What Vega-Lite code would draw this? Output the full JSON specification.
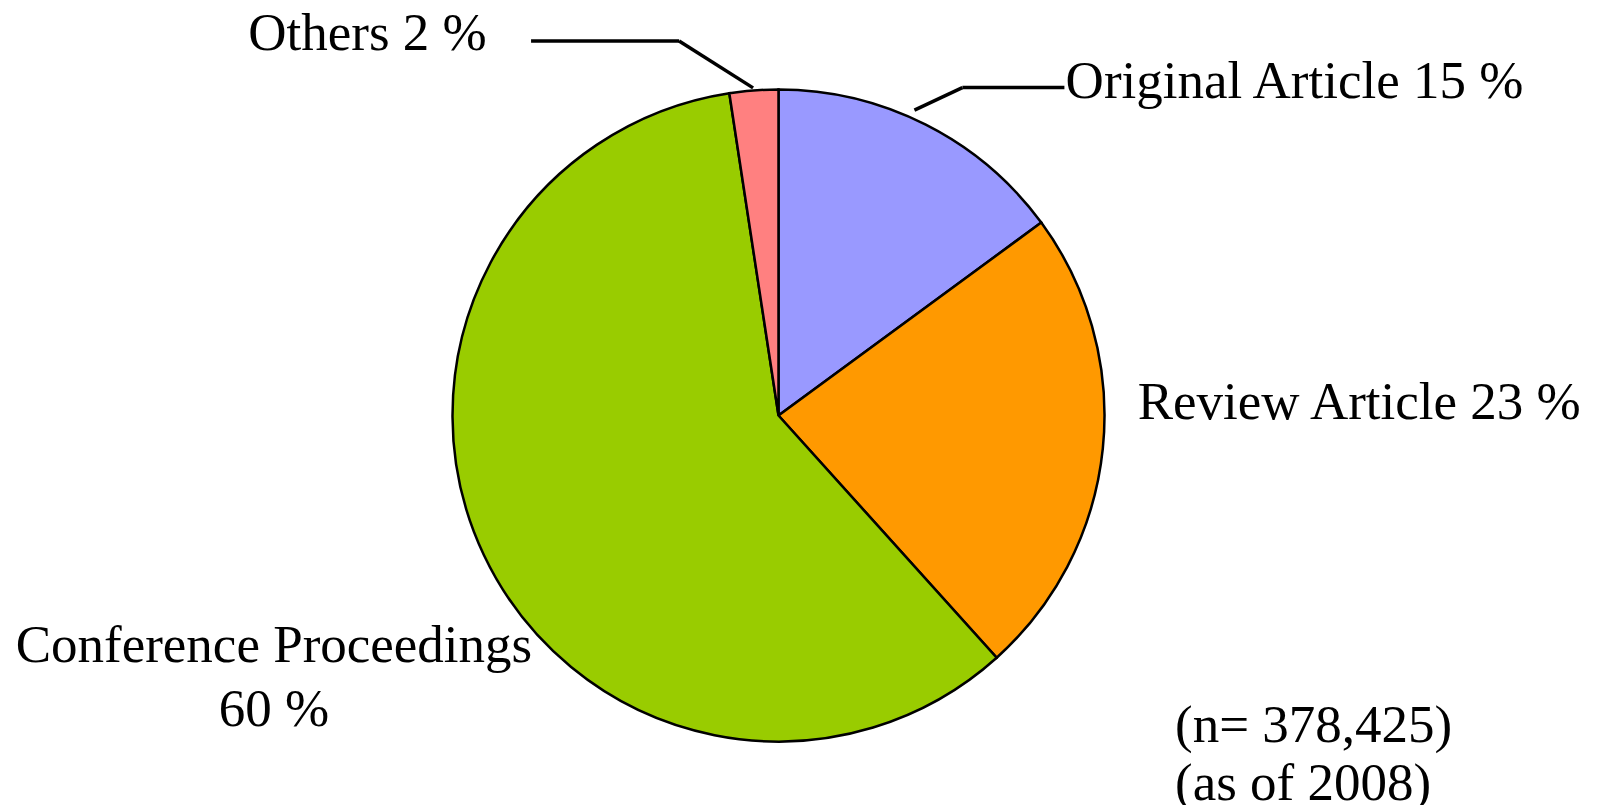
{
  "$schema": "https://vega.github.io/schema/vega-lite/v6.json",
  "autosize": {"type": "none"},
  "width": 1557,
  "height": 779,
  "padding": {"left": 0, "top": 26, "right": 40, "bottom": 0},
  "background": "white",
  "config": {
    "view": {"stroke": null},
    "text": {"font": "Liberation Serif", "fontSize": 53, "color": "black"}
  },
  "title": {
    "text": ["(n= 378,425)", "(as of 2008)"],
    "orient": "bottom",
    "anchor": "end",
    "frame": "group",
    "align": "left",
    "baseline": "alphabetic",
    "dx": -382,
    "dy": -63,
    "offset": 0,
    "font": "Liberation Serif",
    "fontSize": 53,
    "fontWeight": "normal",
    "color": "black",
    "lineHeight": 58
  },
  "data": {
    "values": [
      {"idx": 1, "type": "Original Article", "share": 14.92, "label": "Original Article 15 %"},
      {"idx": 2, "type": "Review Article", "share": 23.41, "label": "Review Article 23 %"},
      {"idx": 3, "type": "Conference Proceedings", "share": 59.26, "label": "Conference Proceedings\n60 %"},
      {"idx": 4, "type": "Others", "share": 2.41, "label": "Others 2 %"}
    ]
  },
  "layer": [
    {
      "mark": {"type": "arc", "outerRadius": 326, "stroke": "black", "strokeWidth": 2.5},
      "encoding": {
        "theta": {"field": "share", "type": "quantitative", "stack": true},
        "order": {"field": "idx", "type": "quantitative"},
        "color": {
          "field": "type",
          "type": "nominal",
          "scale": {
            "domain": ["Original Article", "Review Article", "Conference Proceedings", "Others"],
            "range": ["#9999FF", "#FF9900", "#99CC00", "#FF8080"]
          },
          "legend": null
        }
      }
    },
    {
      "mark": {"type": "text", "radius": 350, "align": "left", "baseline": "alphabetic", "dx": 129, "dy": -5},
      "encoding": {
        "theta": {"field": "share", "type": "quantitative", "stack": true},
        "order": {"field": "idx", "type": "quantitative"},
        "detail": {"field": "type", "type": "nominal"},
        "text": {"condition": {"test": "datum.type === 'Original Article'", "field": "label", "type": "nominal"}, "value": ""}
      }
    },
    {
      "mark": {"type": "text", "radius": 350, "align": "left", "baseline": "alphabetic", "dx": 11, "dy": -32},
      "encoding": {
        "theta": {"field": "share", "type": "quantitative", "stack": true},
        "order": {"field": "idx", "type": "quantitative"},
        "detail": {"field": "type", "type": "nominal"},
        "text": {"condition": {"test": "datum.type === 'Review Article'", "field": "label", "type": "nominal"}, "value": ""}
      }
    },
    {
      "mark": {"type": "text", "radius": 420, "align": "center", "baseline": "alphabetic", "dx": -125, "dy": 67, "lineBreak": "\n", "lineHeight": 64},
      "encoding": {
        "theta": {"field": "share", "type": "quantitative", "stack": true},
        "order": {"field": "idx", "type": "quantitative"},
        "detail": {"field": "type", "type": "nominal"},
        "text": {"condition": {"test": "datum.type === 'Conference Proceedings'", "field": "label", "type": "nominal"}, "value": ""}
      }
    },
    {
      "mark": {"type": "text", "radius": 380, "align": "right", "baseline": "alphabetic", "dx": -263, "dy": 13},
      "encoding": {
        "theta": {"field": "share", "type": "quantitative", "stack": true},
        "order": {"field": "idx", "type": "quantitative"},
        "detail": {"field": "type", "type": "nominal"},
        "text": {"condition": {"test": "datum.type === 'Others'", "field": "label", "type": "nominal"}, "value": ""}
      }
    },
    {
      "transform": [{"filter": "datum.type === 'Others'"}],
      "mark": {"type": "rule", "strokeWidth": 3.5, "color": "black"},
      "encoding": {
        "x": {"datum": -75.9, "type": "quantitative", "scale": {"domain": [-238.8, 238.8], "nice": false, "zero": false}, "axis": null},
        "y": {"datum": 114.9, "type": "quantitative", "scale": {"domain": [-119.48, 119.48], "nice": false, "zero": false}, "axis": null},
        "x2": {"datum": -30.5},
        "y2": {"datum": 114.9}
      }
    },
    {
      "transform": [{"filter": "datum.type === 'Others'"}],
      "mark": {"type": "rule", "strokeWidth": 3.5, "color": "black"},
      "encoding": {
        "x": {"datum": -30.5, "type": "quantitative", "scale": {"domain": [-238.8, 238.8], "nice": false, "zero": false}, "axis": null},
        "y": {"datum": 114.9, "type": "quantitative", "scale": {"domain": [-119.48, 119.48], "nice": false, "zero": false}, "axis": null},
        "x2": {"datum": -7.8},
        "y2": {"datum": 100.5}
      }
    },
    {
      "transform": [{"filter": "datum.type === 'Original Article'"}],
      "mark": {"type": "rule", "strokeWidth": 3.5, "color": "black"},
      "encoding": {
        "x": {"datum": 41.7, "type": "quantitative", "scale": {"domain": [-238.8, 238.8], "nice": false, "zero": false}, "axis": null},
        "y": {"datum": 93.7, "type": "quantitative", "scale": {"domain": [-119.48, 119.48], "nice": false, "zero": false}, "axis": null},
        "x2": {"datum": 56.4},
        "y2": {"datum": 100.6}
      }
    },
    {
      "transform": [{"filter": "datum.type === 'Original Article'"}],
      "mark": {"type": "rule", "strokeWidth": 3.5, "color": "black"},
      "encoding": {
        "x": {"datum": 56.4, "type": "quantitative", "scale": {"domain": [-238.8, 238.8], "nice": false, "zero": false}, "axis": null},
        "y": {"datum": 100.6, "type": "quantitative", "scale": {"domain": [-119.48, 119.48], "nice": false, "zero": false}, "axis": null},
        "x2": {"datum": 87.7},
        "y2": {"datum": 100.6}
      }
    }
  ]
}
